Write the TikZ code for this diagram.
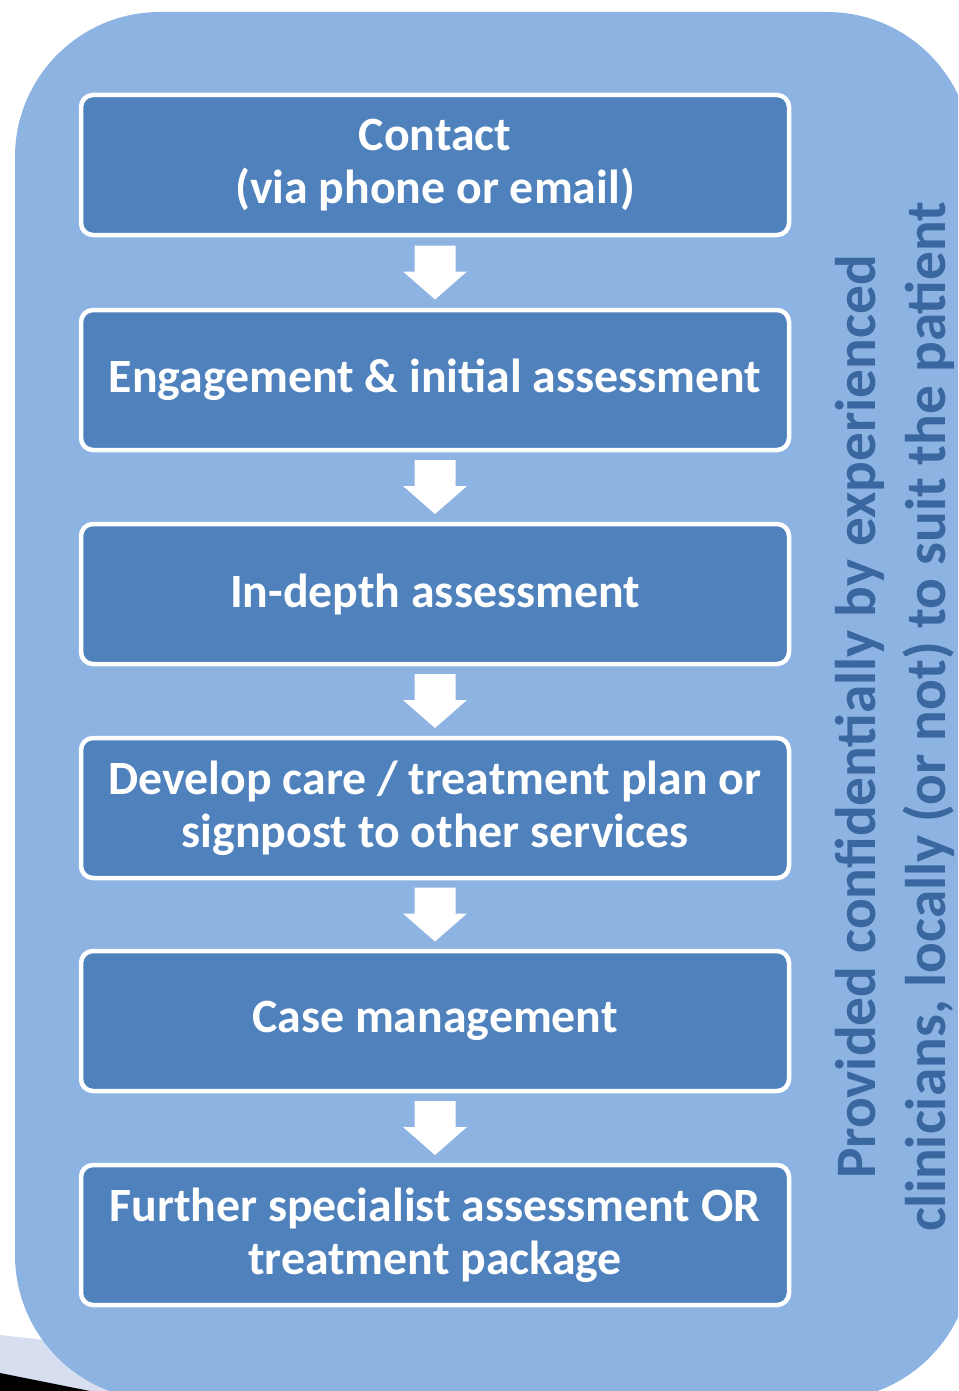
\documentclass[tikz,border=0pt]{standalone}
\usepackage{fontspec}
\setmainfont{Carlito}
\usetikzlibrary{calc}
\definecolor{bgblue}{HTML}{8DB3E2}
\definecolor{boxblue}{HTML}{4F81BD}
\definecolor{lavender}{RGB}{214,222,240}
\definecolor{sidetext}{RGB}{58,103,160}
\tikzset{
  stepbox/.style={rectangle, rounded corners=12pt, fill=boxblue, draw=white, line width=4.5pt,
    minimum width=708pt, minimum height=140pt, align=center, text=white,
    font=\fontsize{47.8}{53}\selectfont\bfseries, inner sep=0pt},
  flowarrow/.style={fill=white, draw=none},
  sidelabel/.style={rotate=90, align=center, text=sidetext,
    font=\fontsize{57.3}{70}\selectfont\bfseries, inner sep=0pt}
}
\begin{document}
\begin{tikzpicture}[x=1pt,y=-1pt]
\useasboundingbox (0,0) rectangle (958,1391);
\begin{scope}
\clip (0,0) rectangle (958,1391);
\fill[lavender] (0,1335) -- (500,1390) -- (500,1391) -- (0,1391) -- cycle;
\fill[black] (0,1373) -- (90,1391) -- (0,1391) -- cycle;
\fill[bgblue, rounded corners=145pt] (15,12) rectangle (972,1400);
\end{scope}

\node[stepbox] (b1) at (435,165) {Contact\\(via phone or email)};
\node[stepbox] (b2) at (435,380) {Engagement \& initial assessment};
\node[stepbox] (b3) at (435,594) {In-depth assessment};
\node[stepbox] (b4) at (435,808) {Develop care / treatment plan or\\signpost to other services};
\node[stepbox] (b5) at (435,1021) {Case management};
\node[stepbox] (b6) at (435,1235) {Further specialist assessment OR\\treatment package};

\foreach \a/\b in {b1/b2,b2/b3,b3/b4,b4/b5,b5/b6}{
  \coordinate (m\a) at ($(\a.south)!0.5!(\b.north)$);
  \fill[flowarrow] (m\a) ++(-20.5,-27) -- ++(41,0) -- ++(0,26) -- ++(11.5,0)
    -- ++(-32,28) -- ++(-32,-28) -- ++(11.5,0) -- cycle;
}

\node[sidelabel] (side) at (895,717) {Provided confidentially by experienced\\clinicians, locally (or not) to suit the patient};
\end{tikzpicture}
\end{document}
